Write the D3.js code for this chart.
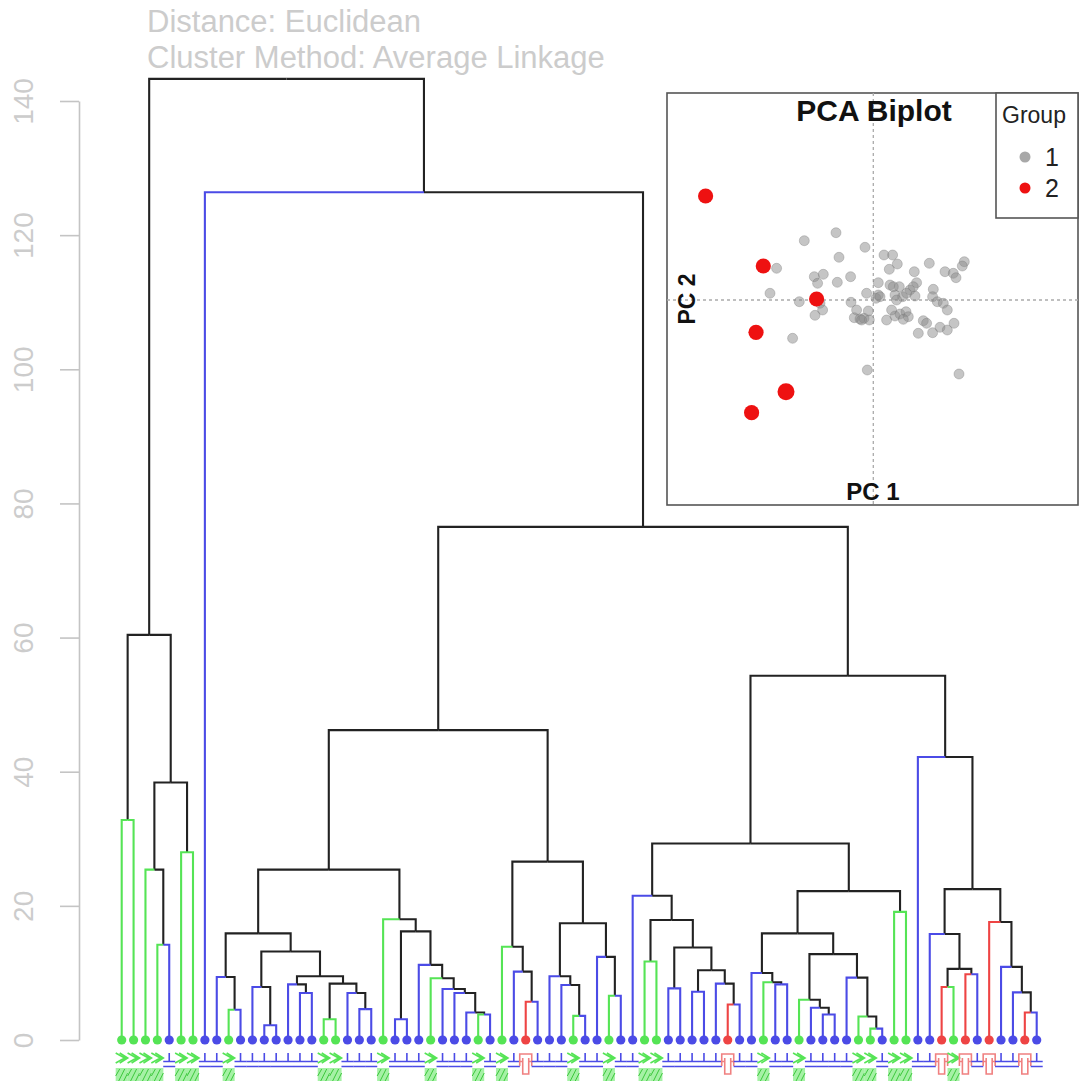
<!DOCTYPE html>
<html><head><meta charset="utf-8">
<script src="https://cdn.jsdelivr.net/npm/d3@7"></script>
<style>body{margin:0;background:#fff}svg{display:block}</style>
</head><body><svg id="c" width="1081" height="1081"></svg>
<script>
// ---- data ----
const titleLines = ["Distance: Euclidean", "Cluster Method: Average Linkage"];
const yTicks = [0, 20, 40, 60, 80, 100, 120, 140];
// leaf groups, left to right (G = green, B = blue, R = red)
const leafGroups = ["G","G","G","G","B","G","G","B","B","G","B","B","B","B","B","B","B","G","G","B",
  "B","B","G","B","B","B","G","B","B","B","G","B","G","B","R","B","B","B","G","B",
  "B","G","B","B","G","G","B","B","B","B","B","R","B","B","G","B","B","G","B","B",
  "B","B","G","G","B","G","G","B","B","R","G","R","B","R","B","B","R","B"];
// merge table: [left, right, height]; negative = leaf number, positive = merge row number
const merges = [
  [-13,-14,2.2],[-12,1,7.9],[-10,-11,4.5],[-9,3,9.4],[-16,-17,7.0],[-15,5,8.3],[-18,-19,3.1],[-21,-22,4.6],
  [-20,8,7.0],[7,9,8.4],[6,10,9.5],[2,11,13.2],[4,12,15.9],[-31,-32,3.8],[-30,14,4.1],[-29,15,7.0],
  [-28,16,7.6],[-27,17,9.2],[-26,18,11.2],[-24,-25,3.1],[20,19,16.2],[-23,21,18.0],[13,22,25.4],[-35,-36,5.7],
  [-34,24,10.2],[-33,25,13.9],[-39,-40,3.6],[-38,27,8.2],[-37,28,9.5],[-42,-43,6.6],[-41,30,12.4],[29,31,17.4],
  [26,32,26.6],[23,33,46.2],[-45,-46,11.7],[-47,-48,7.7],[-49,-50,7.2],[-52,-53,5.3],[-51,38,8.4],[37,39,10.4],
  [36,40,13.8],[35,41,17.9],[-44,42,21.5],[-56,-57,8.3],[-55,44,8.6],[-54,45,10.0],[-60,-61,3.8],[-59,47,4.8],
  [-58,48,6.0],[-64,-65,1.7],[-63,50,3.5],[-62,51,9.3],[49,52,12.8],[46,53,15.9],[-66,-67,19.1],[54,55,22.2],
  [43,56,29.3],[-70,-71,7.9],[-72,-73,9.8],[58,59,10.6],[-69,60,15.8],[-77,-78,4.1],[-76,62,7.1],[-75,63,10.9],
  [-74,64,17.6],[61,65,22.5],[-68,66,42.2],[57,67,54.3],[34,68,76.5],[-8,69,126.4],[-1,-2,32.8],[-4,-5,14.2],
  [-3,72,25.4],[-6,-7,28.0],[73,74,38.4],[71,75,60.4],[76,70,143.3]];
// PCA scores
const pcaGroup1PC1 = [-6.9,-3.73,-0.83,-3.43,-9.67,-5.9,-5.0,-5.57,-3.6,-2.27,-10.33,-7.4,-5.33,-5.07,-5.83,-2.23,-8.07,-0.6,8.57,
  1.07,1.93,2.4,1.6,4.1,5.6,7.17,8.0,8.27,9.1,8.9,0.5,1.67,2.6,4.33,3.67,4.17,6.0,5.93,6.4,7.0,7.4,-0.67,0.5,0.27,2.17,2.93,2.33,3.33,
  -1.9,-1.33,-0.93,-0.5,-0.4,1.33,2.17,2.67,3.27,3.5,3.0,5.0,5.33,4.5,5.93,6.67,7.4,8.07,1.83,-1.67,-1.17,0.67,4.0,2.0];
const pcaGroup1PC2 = [5.93,6.73,5.27,4.27,3.17,2.33,2.57,1.67,1.77,2.33,0.67,-0.17,-0.33,-1.0,-1.53,-0.23,-3.83,-7.0,-7.4,
  4.5,4.5,3.6,3.07,2.83,3.67,2.83,2.67,2.23,3.83,3.4,1.73,1.5,1.33,1.73,1.0,0.4,1.07,0.33,-0.17,-0.33,-1.0,0.67,0.5,0.17,0.5,0.33,0,0.67,
  -1.77,-1.9,-1.83,-1.1,-2.0,-2.0,-1.6,-1.4,-1.17,-1.67,-1.93,-2.07,-2.33,-3.33,-3.27,-2.73,-3.0,-2.33,-1.0,-1.0,-2.0,0.33,1.33,1.33];
const pcaGroup2PC1 = [-16.77,-11.0,-5.67,-11.73,-8.73,-12.17];
const pcaGroup2PC2 = [10.4,3.4,0.1,-3.23,-9.17,-11.27];
const legendLabels = ["1","2"];

// ---- drawing ----
const svg = d3.select("#c");
const FONT = "'Liberation Sans', Arial, sans-serif";
const col = {G:"#55e455", B:"#4b4be6", R:"#ee4444"};
const lightCol = {G:"#8fee8f", B:"#8080f0", R:"#f08080"};

const y = d3.scaleLinear().domain([0,140]).range([1040,101]);
const x = d3.scalePoint().domain(d3.range(leafGroups.length)).range([121.7,1036.7]);

function build(i){
  if (i < 0) return {leaf: -i-1};
  const m = merges[i-1];
  return {height: m[2], children: [build(m[0]), build(m[1])]};
}
const root = d3.hierarchy(build(merges.length));
root.eachAfter(n => {
  if (!n.children) { n.px = x(n.data.leaf); n.h = 0; }
  else { n.px = d3.mean(n.children, c => c.px); n.h = n.data.height; }
});

// title
svg.selectAll("text.title").data(titleLines).join("text")
  .attr("x",147).attr("y",(d,i)=>32+i*36)
  .attr("font-family",FONT).attr("font-size",31).attr("fill","#cccccc").text(d=>d);

// axis
const ax = svg.append("g").attr("transform","translate(79,0)")
  .call(d3.axisLeft(y).tickValues(yTicks).tickSize(19).tickSizeOuter(0).tickFormat(d3.format("d")));
ax.select(".domain").attr("stroke","#c4c4c4").attr("stroke-width",1.6);
ax.selectAll(".tick line").attr("stroke","#c4c4c4").attr("stroke-width",1.6);
ax.selectAll(".tick text").attr("x",null).attr("dy",null)
  .attr("transform","translate(-46,0) rotate(-90)").attr("text-anchor","middle")
  .attr("font-family",FONT).attr("font-size",28).attr("fill","#cccccc");

// edges
const edges = root.descendants().filter(d => d.parent);
const edgeColor = d => d.children ? "#222" : col[leafGroups[d.data.leaf]];
const eg = svg.append("g").attr("fill","none").attr("stroke-width",2.1);
eg.selectAll("path").data(edges.sort((a,b)=> (a.children?0:1)-(b.children?0:1))).join("path")
  .attr("d", d => `M${d.parent.px},${y(d.parent.h)}H${d.px}V${y(d.h)}`)
  .attr("stroke", edgeColor);

// leaf dots
const leaves = root.leaves();
svg.append("g").selectAll("circle").data(leaves).join("circle")
  .attr("cx", d=>d.px).attr("cy", y(0)).attr("r",4.6)
  .attr("fill", d=>col[leafGroups[d.data.leaf]]);

// leaf label strip (truncated label glyphs)
const lg = svg.append("g").attr("fill","none").attr("stroke-width",1.6);
leaves.forEach(d => {
  const g = leafGroups[d.data.leaf], cx = d.px, c = col[g];
  if (g === "B") {
    lg.append("path").attr("stroke",c).attr("d",`M${cx},1053V1061M${cx-6},1061.5H${cx+6}M${cx-6},1066.5H${cx+6}`);
  } else if (g === "G") {
    lg.append("path").attr("stroke",c).attr("d",`M${cx-6},1053L${cx+3},1058L${cx-6},1063M${cx-2},1053L${cx+6},1058L${cx-2},1063`);
    lg.append("rect").attr("x",cx-6).attr("y",1068).attr("width",12).attr("height",14).attr("fill",lightCol.G).attr("opacity",0.8);
    lg.append("path").attr("stroke","#3cc83c").attr("stroke-width",1)
      .attr("d",`M${cx-6},1076L${cx-2},1069M${cx-3},1081L${cx+3},1069M${cx+2},1081L${cx+6},1073`);
  } else {
    lg.append("path").attr("stroke",lightCol.R)
      .attr("d",`M${cx-6},1066V1054H${cx+6}V1066M${cx-3},1058V1074H${cx+3}V1058M${cx-6},1061.5H${cx-3}M${cx+3},1061.5H${cx+6}`);
  }
});

// ---- PCA inset ----
const ix0 = 667, ix1 = 1078, iy0 = 93, iy1 = 505;
svg.append("rect").attr("x",ix0).attr("y",iy0).attr("width",ix1-ix0).attr("height",iy1-iy0)
  .attr("fill","#fff").attr("stroke","#555").attr("stroke-width",1.6);
const px = d3.scaleLinear().domain([-20.63,20.47]).range([ix0,ix1]);
const py = d3.scaleLinear().domain([-20.5,20.7]).range([iy1,iy0]);
svg.append("line").attr("x1",px(0)).attr("x2",px(0)).attr("y1",iy0).attr("y2",iy1)
  .attr("stroke","#aaa").attr("stroke-dasharray","3,3").attr("stroke-width",1.3);
svg.append("line").attr("x1",ix0).attr("x2",ix1).attr("y1",py(0)).attr("y2",py(0))
  .attr("stroke","#aaa").attr("stroke-dasharray","3,3").attr("stroke-width",1.3);
svg.append("g").selectAll("circle").data(pcaGroup1PC1).join("circle")
  .attr("cx",d=>px(d)).attr("cy",(d,i)=>py(pcaGroup1PC2[i])).attr("r",5)
  .attr("fill","#8c8c8c").attr("fill-opacity",0.5).attr("stroke","#777").attr("stroke-opacity",0.35);
svg.append("g").selectAll("circle").data(pcaGroup2PC1).join("circle")
  .attr("cx",d=>px(d)).attr("cy",(d,i)=>py(pcaGroup2PC2[i])).attr("r",(d,i)=> i===4 ? 8.5 : 7.6)
  .attr("fill","#ee1111");
svg.append("text").attr("x",874).attr("y",121).attr("text-anchor","middle")
  .attr("font-family",FONT).attr("font-weight","bold").attr("font-size",30).attr("fill","#111").text("PCA Biplot");
svg.append("text").attr("x",873).attr("y",500).attr("text-anchor","middle")
  .attr("font-family",FONT).attr("font-weight","bold").attr("font-size",24).attr("fill","#111").text("PC 1");
svg.append("text").attr("transform","translate(695,299) rotate(-90)").attr("text-anchor","middle")
  .attr("font-family",FONT).attr("font-weight","bold").attr("font-size",23).attr("fill","#111").text("PC 2");
// legend
svg.append("rect").attr("x",996).attr("y",iy0).attr("width",ix1-996).attr("height",125)
  .attr("fill","#fff").attr("stroke","#555").attr("stroke-width",1.6);
svg.append("text").attr("x",1002).attr("y",123).attr("font-family",FONT).attr("font-size",23).attr("fill","#222").text("Group");
const legCols = ["#a8a8a8","#ee1111"];
legendLabels.forEach((l,i) => {
  svg.append("circle").attr("cx",1025).attr("cy",157+i*31).attr("r",5.5).attr("fill",legCols[i]);
  svg.append("text").attr("x",1045).attr("y",166+i*31).attr("font-family",FONT).attr("font-size",25).attr("fill","#222").text(l);
});
</script></body></html>
